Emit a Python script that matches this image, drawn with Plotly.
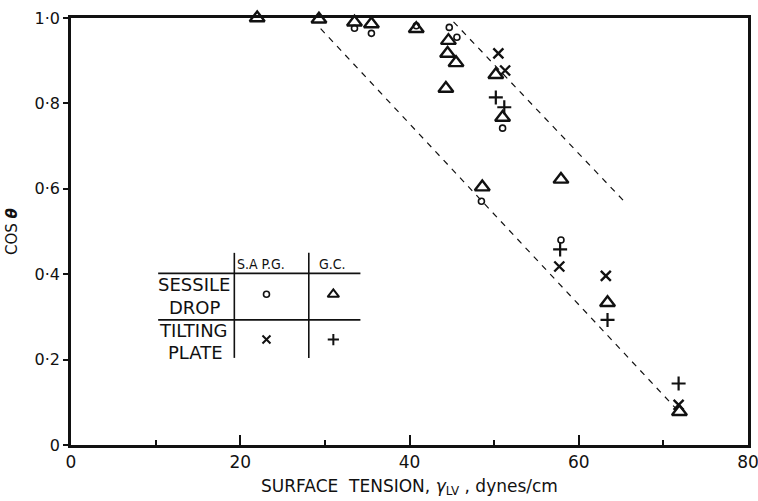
import plotly.graph_objects as go

# ---------------- data ----------------
# Sessile drop, S.A.P.G. (open circles)
sd_sapg_x = [33.5, 35.5, 40.8, 44.7, 45.6, 51.0, 48.5, 57.9]
sd_sapg_y = [0.976, 0.964, 0.982, 0.978, 0.955, 0.742, 0.571, 0.480]
# Sessile drop, G.C. (triangles)
sd_gc_x = [22.0, 29.3, 33.5, 35.5, 40.8, 44.6, 44.5, 45.5, 44.3, 50.2, 51.0, 48.6, 57.9, 63.4, 71.9]
sd_gc_y = [1.0, 0.997, 0.99, 0.986, 0.975, 0.947, 0.917, 0.895, 0.835, 0.867, 0.767, 0.604, 0.622, 0.333, 0.078]
# Tilting plate, S.A.P.G. (crosses x)
tp_sapg_x = [50.5, 51.3, 57.7, 63.2, 71.8]
tp_sapg_y = [0.917, 0.877, 0.418, 0.396, 0.094]
# Tilting plate, G.C. (plus)
tp_gc_x = [50.2, 51.2, 57.8, 63.4, 71.8]
tp_gc_y = [0.814, 0.791, 0.458, 0.293, 0.144]
# Dashed envelope lines
env1_x = [29.5, 71.5]
env1_y = [0.975, 0.085]
env2_x = [45.2, 65.3]
env2_y = [0.991, 0.572]

x_ticks = [0, 20, 40, 60, 80]
x_ticklabels = ["0", "20", "40", "60", "80"]
y_ticks = [0, 0.2, 0.4, 0.6, 0.8, 1.0]
y_ticklabels = ["0", "0·2", "0·4", "0·6", "0·8", "1·0"]

# ---------------- styling ----------------
FONT = "DejaVu Sans"
BLACK = "#111111"

tri = dict(symbol="triangle-up-open", size=13, color=BLACK, line=dict(width=2.4, color=BLACK))
circ = dict(symbol="circle-open", size=6, color=BLACK, line=dict(width=1.6, color=BLACK))
xm = dict(symbol="x-thin", size=10, color=BLACK, line=dict(width=2.4, color=BLACK))
pm = dict(symbol="cross-thin", size=10, color=BLACK, line=dict(width=2.2, color=BLACK))

fig = go.Figure()

for ex, ey in [(env1_x, env1_y), (env2_x, env2_y)]:
    fig.add_trace(go.Scatter(x=ex, y=ey, mode="lines",
                             line=dict(color=BLACK, width=1.2, dash="6px,6px"),
                             showlegend=False, hoverinfo="skip"))

fig.add_trace(go.Scatter(x=sd_gc_x, y=sd_gc_y, mode="markers", marker=tri, cliponaxis=False, showlegend=False))
fig.add_trace(go.Scatter(x=sd_sapg_x, y=sd_sapg_y, mode="markers", marker=circ, cliponaxis=False, showlegend=False))
fig.add_trace(go.Scatter(x=tp_sapg_x, y=tp_sapg_y, mode="markers", marker=xm, cliponaxis=False, showlegend=False))
fig.add_trace(go.Scatter(x=tp_gc_x, y=tp_gc_y, mode="markers", marker=pm, cliponaxis=False, showlegend=False))

# ---------------- key table (layout positions in data units) ----------------
TBL_X0, TBL_X1 = 10.3, 34.2
TBL_C1, TBL_C2 = 19.3, 28.1
TBL_TOP, TBL_BOT = 0.450, 0.204
TBL_H1, TBL_H2 = 0.402, 0.293
COL1_X, COL2_X = 23.1, 31.0
ROW1_Y, ROW2_Y = 0.353, 0.247

lw = 1.6
for xv in (TBL_C1, TBL_C2):
    fig.add_shape(type="line", x0=xv, x1=xv, y0=TBL_TOP, y1=TBL_BOT, line=dict(color=BLACK, width=lw))
for yv in (TBL_H1, TBL_H2):
    fig.add_shape(type="line", x0=TBL_X0, x1=TBL_X1, y0=yv, y1=yv, line=dict(color=BLACK, width=lw))

fig.add_trace(go.Scatter(x=[COL1_X], y=[ROW1_Y], mode="markers", marker=circ, showlegend=False))
fig.add_trace(go.Scatter(x=[COL2_X], y=[ROW1_Y], mode="markers",
                         marker=dict(symbol="triangle-up-open", size=10, color=BLACK, line=dict(width=2, color=BLACK)),
                         showlegend=False))
fig.add_trace(go.Scatter(x=[COL1_X], y=[ROW2_Y], mode="markers",
                         marker=dict(symbol="x-thin", size=8, color=BLACK, line=dict(width=2, color=BLACK)),
                         showlegend=False))
fig.add_trace(go.Scatter(x=[COL2_X], y=[ROW2_Y], mode="markers",
                         marker=dict(symbol="cross-thin", size=8, color=BLACK, line=dict(width=2, color=BLACK)),
                         showlegend=False))

labels = [
    ("S.A P.G.", 22.4, 0.424, 14, "DejaVu Sans Condensed"),
    ("G.C.", 30.9, 0.424, 14, "DejaVu Sans Condensed"),
    ("SESSILE", 14.5, 0.376, 18, FONT),
    ("DROP", 14.7, 0.321, 18, FONT),
    ("TILTING", 14.5, 0.269, 18, FONT),
    ("PLATE", 14.7, 0.217, 18, FONT),
]
for t, xx, yy, fs, fam in labels:
    fig.add_annotation(x=xx, y=yy, text=t, showarrow=False, font=dict(family=fam, size=fs, color=BLACK),
                       xanchor="center", yanchor="middle")

fig.update_layout(
    width=758, height=501,
    margin=dict(l=71, r=10, t=18, b=56),
    paper_bgcolor="white", plot_bgcolor="white",
    font=dict(family=FONT, size=15, color=BLACK),
    xaxis=dict(range=[0, 80], tickvals=x_ticks, ticktext=x_ticklabels, automargin=False,
               showgrid=False, zeroline=False, showline=True, linewidth=2.5, linecolor=BLACK,
               mirror=True, ticks="inside", ticklen=10, tickwidth=2, tickcolor=BLACK,
               minor=dict(dtick=10, ticks="inside", ticklen=5, tickwidth=2, tickcolor=BLACK),
               tickfont=dict(size=17), ticklabeloverflow="allow",
               title=dict(text="SURFACE  TENSION, <i>γ</i><sub>LV</sub> , dynes/cm",
                          font=dict(size=17), standoff=9)),
    yaxis=dict(range=[0, 1.0], tickvals=y_ticks, ticktext=y_ticklabels, automargin=False,
               showgrid=False, zeroline=False, showline=True, linewidth=2.5, linecolor=BLACK,
               mirror=True, ticks="outside", ticklen=5, tickwidth=2, tickcolor=BLACK,
               tickfont=dict(size=16),
               title=dict(text="COS <b><i>θ</i></b>", font=dict(size=15), standoff=14)),
)

# remove the default page margin / scrollbars so the 758x501 figure fills the window exactly
fig.write_html(
    "out.html",
    config={"displayModeBar": False},
    post_script=(
        "document.body.style.margin='0';"
        "document.body.style.overflow='hidden';"
        "document.documentElement.style.overflow='hidden';"
    ),
)
